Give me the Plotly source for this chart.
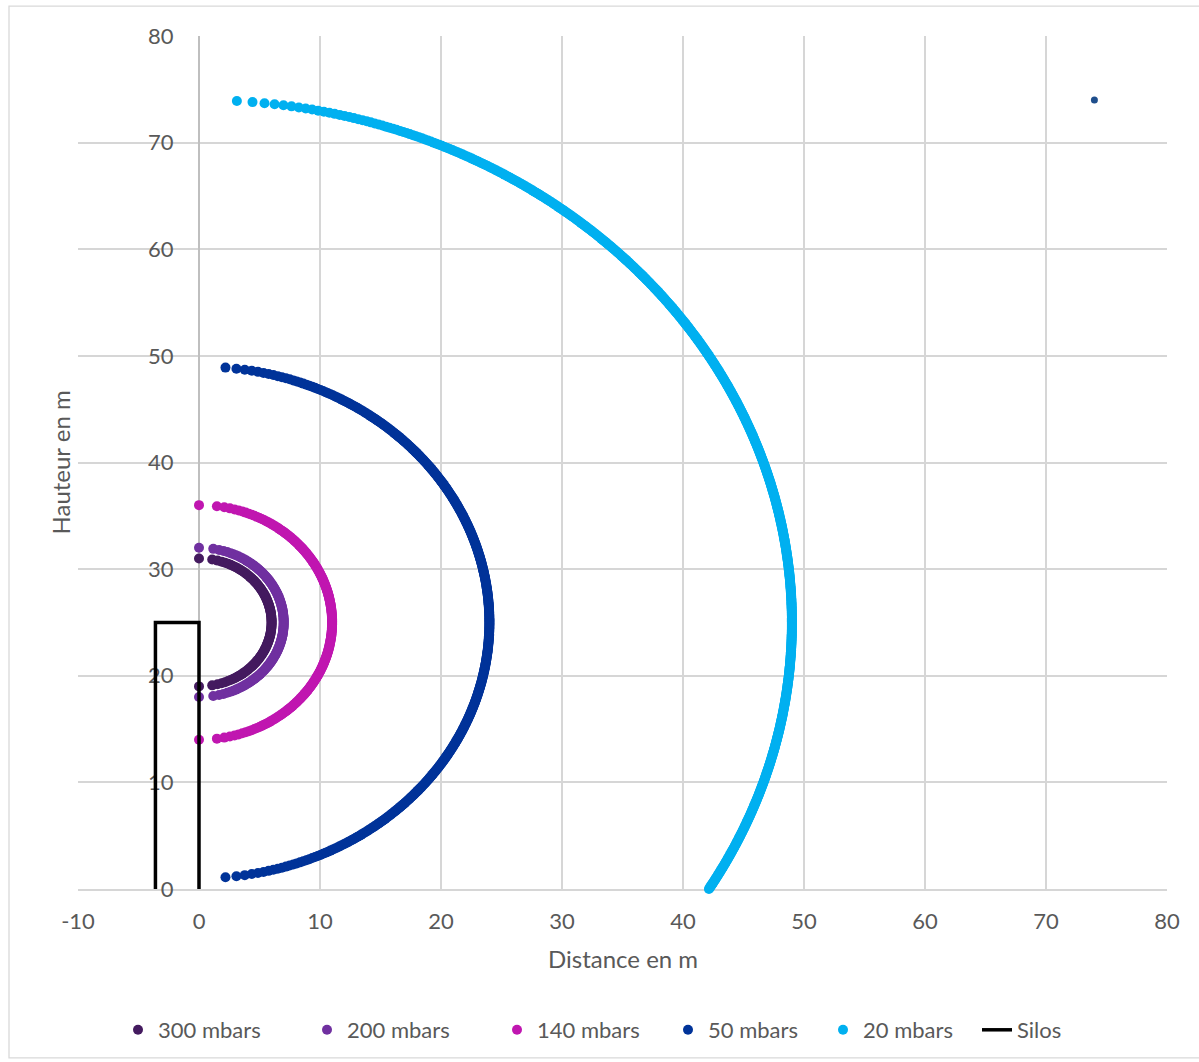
import numpy as np
import plotly.graph_objects as go

# Overpressure threshold distances around a silo (release point on the silo axis)
pressure_labels = ["300 mbars", "200 mbars", "140 mbars", "50 mbars", "20 mbars"]
radius_m = [6.0, 7.0, 11.0, 24.0, 49.0]
top_height_m = [31.0, 32.0, 36.0, 48.9, 73.9]
bottom_height_m = [19.0, 18.0, 14.0, 1.1, 0.0]
release_height_m = 25.0
height_step_m = 0.1

# Silo outline (left wall, roof, right wall)
silo_x = [-3.6, -3.6, 0.0, 0.0]
silo_y = [0.0, 25.0, 25.0, 0.0]

# Isolated point plotted on its own
extra_x = [74.0]
extra_y = [74.0]

x_ticks = list(range(-10, 81, 10))
y_ticks = list(range(0, 81, 10))

series_colors = ["#441a5f", "#7030a0", "#c016b0", "#003399", "#00b0f0"]
FONT = "Lato, 'Open Sans', sans-serif"
TEXT_COLOR = "#595959"
FONT_SIZE = 22
TITLE_SIZE = 24

W, H = 1199, 1062
L, R, T, B = 78, 32, 36, 172
plot_w = W - L - R
plot_h = H - T - B


def px_x(px):
    return (px - L) / plot_w


def px_y(py):
    return (H - B - py) / plot_h


def arc_points(r, top, bottom):
    steps = np.arange(round(top / height_step_m), round(bottom / height_step_m) - 1, -1)
    y = steps * height_step_m
    x = np.sqrt(np.clip(r ** 2 - (y - release_height_m) ** 2, 0.0, None))
    return x, y


fig = go.Figure()

legend_text_left = [158, 347, 537, 708, 863, 1017]
legend_names = ["legend", "legend2", "legend3", "legend4", "legend5", "legend6"]

for i, label in enumerate(pressure_labels):
    xs, ys = arc_points(radius_m[i], top_height_m[i], bottom_height_m[i])
    fig.add_trace(go.Scatter(
        x=xs, y=ys, mode="markers", name=label,
        marker=dict(size=10, color=series_colors[i], line=dict(width=0)),
        cliponaxis=False, legend=legend_names[i],
    ))

fig.add_trace(go.Scatter(
    x=extra_x, y=extra_y, mode="markers", showlegend=False,
    marker=dict(size=7, color="#1f4e8c"), cliponaxis=False,
))

fig.add_trace(go.Scatter(
    x=silo_x, y=silo_y, mode="lines", name="Silos",
    line=dict(color="#000000", width=3.5), legend=legend_names[5],
))

legend_layout = {}
for i, name in enumerate(legend_names):
    legend_layout[name] = dict(
        orientation="h", x=px_x(legend_text_left[i] - 40), xanchor="left",
        y=px_y(1030), yanchor="middle", bgcolor="rgba(0,0,0,0)",
        borderwidth=0, font=dict(family=FONT, size=FONT_SIZE, color=TEXT_COLOR),
    )

fig.update_layout(
    width=W, height=H,
    margin=dict(l=L, r=R, t=T, b=B, pad=0),
    paper_bgcolor="white", plot_bgcolor="white",
    font=dict(family=FONT, size=FONT_SIZE, color=TEXT_COLOR),
    showlegend=True,
    **legend_layout,
    xaxis=dict(
        range=[-10, 80], tickvals=x_ticks, ticktext=[str(v) for v in x_ticks],
        showgrid=True, gridcolor="#d6d6d6", gridwidth=1.6,
        zeroline=False, showline=True, linecolor="#d6d6d6", linewidth=1.6,
        ticks="", ticklabelstandoff=12, automargin=False, layer="below traces",
        tickfont=dict(family=FONT, size=FONT_SIZE, color=TEXT_COLOR),
    ),
    yaxis=dict(
        range=[0, 80], tickvals=y_ticks, ticktext=[str(v) for v in y_ticks],
        anchor="free", position=10 / 90,
        showgrid=True, gridcolor="#d6d6d6", gridwidth=1.6,
        zeroline=False, showline=True, linecolor="#bfbfbf", linewidth=2,
        ticks="", ticklabelstandoff=20, automargin=False, layer="below traces",
        tickfont=dict(family=FONT, size=FONT_SIZE, color=TEXT_COLOR),
    ),
    annotations=[
        dict(text="Distance en m", xref="paper", yref="paper",
             x=0.5, y=px_y(960), xanchor="center", yanchor="middle",
             showarrow=False, font=dict(family=FONT, size=TITLE_SIZE, color=TEXT_COLOR)),
        dict(text="Hauteur en m", xref="paper", yref="paper",
             x=px_x(60), y=0.5, xanchor="center", yanchor="middle", textangle=-90,
             showarrow=False, font=dict(family=FONT, size=TITLE_SIZE, color=TEXT_COLOR)),
    ],
    shapes=[
        dict(type="rect", xref="paper", yref="paper",
             x0=px_x(9), x1=px_x(1210), y0=px_y(1059), y1=px_y(6),
             line=dict(color="#d9d9d9", width=1.3), fillcolor="rgba(0,0,0,0)",
             layer="below"),
    ],
)

fig.write_html("out.html")
